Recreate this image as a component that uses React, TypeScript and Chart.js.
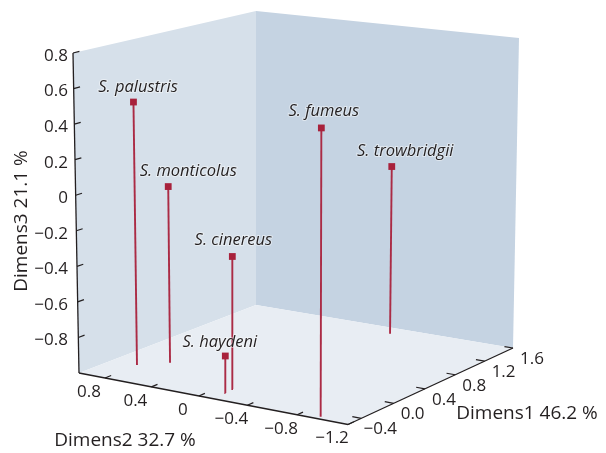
import React, { useEffect, useRef } from "react";
import { Chart, registerables } from "chart.js";

Chart.register(...registerables);

// ---- data (axis units)
const species = ["S. palustris", "S. monticolus", "S. cinereus", "S. haydeni", "S. fumeus", "S. trowbridgii"];
const dimens1 = [-0.184, -0.013, -0.303, -0.407, -0.5125, 1.455];
const dimens2 = [0.807, 0.645, -0.101, -0.1125, -0.955, -0.258];
const dimens3 = [0.494, 0.004, -0.263, -0.795, 0.57, -0.013];

const dimens1Ticks = [-0.4, 0, 0.4, 0.8, 1.2, 1.6];
const dimens1Labels = ["\u22120.4", "0.0", "0.4", "0.8", "1.2", "1.6"];
const dimens2Ticks = [0.8, 0.4, 0, -0.4, -0.8, -1.2];
const dimens2Labels = ["0.8", "0.4", "0", "\u22120.4", "\u22120.8", "\u22121.2"];
const dimens3Ticks = [0.8, 0.6, 0.4, 0.2, 0, -0.2, -0.4, -0.6, -0.8];
const dimens3Labels = ["0.8", "0.6", "0.4", "0.2", "0", "\u22120.2", "\u22120.4", "\u22120.6", "\u22120.8"];

const D1 = [-0.56, 1.6];
const D2 = [-1.2, 1.028];
const D3 = [-1, 0.8];

// ---- view: perspective of the box on the page
const H = { a: 212.45, b: -263.75, c: 348, d: -44.31, e: -26.7, f: 424.5, g: 0.0925, h: 0.0665 };
const boxHeight = [333, 310, 320, 294]; // front, right, left, back
const boxLean = [1.5, 6, -6, 0];

function project(d1: number, d2: number, d3: number) {
  const s = (d1 - D1[0]) / (D1[1] - D1[0]);
  const t = (d2 - D2[0]) / (D2[1] - D2[0]);
  const w = H.g * s + H.h * t + 1;
  const fx = (H.a * s + H.b * t + H.c) / w;
  const fy = (H.d * s + H.e * t + H.f) / w;
  const mix = (v: number[]) =>
    (1 - s) * (1 - t) * v[0] + s * (1 - t) * v[1] + (1 - s) * t * v[2] + s * t * v[3];
  const k = (d3 - D3[0]) / (D3[1] - D3[0]);
  return { x: fx + mix(boxLean) * k, y: fy - mix(boxHeight) * k };
}

const FONT = '"Open Sans", "Noto Sans", sans-serif';
const INK = "#231f20";
const RED = "#a8213b";
const STEM = "#ab2b45";
const labelNudge = [
  [4.5, -15],
  [20, -15.5],
  [1, -16.5],
  [-5.5, -14],
  [2.5, -17],
  [13.5, -15.5],
];

function poly(points: { x: number; y: number }[], color: string) {
  return {
    data: [...points, points[0]],
    showLine: true,
    fill: "shape",
    backgroundColor: color,
    borderColor: color,
    borderWidth: 0,
    pointRadius: 0,
  };
}
function seg(a: { x: number; y: number }, b: { x: number; y: number }, color: string, width: number) {
  return {
    data: [a, b],
    showLine: true,
    fill: false,
    borderColor: color,
    borderWidth: width,
    pointRadius: 0,
  };
}

function buildDatasets() {
  const [a0, a1] = D1;
  const [b0, b1] = D2;
  const [c0, c1] = D3;
  const out: any[] = [];
  out.push(poly([project(a0, b1, c0), project(a0, b1, c1), project(a1, b1, c1), project(a1, b1, c0)], "#d6e0ea"));
  out.push(poly([project(a1, b1, c0), project(a1, b1, c1), project(a1, b0, c1), project(a1, b0, c0)], "#c5d3e2"));
  out.push(poly([project(a0, b0, c0), project(a1, b0, c0), project(a1, b1, c0), project(a0, b1, c0)], "#e8edf3"));

  // axes
  out.push(seg(project(a0, b1, c0), project(a0, b1, c1), INK, 1.3));
  out.push(seg(project(a0, b1, c0), project(a0, b0, c0), INK, 1.3));
  out.push(seg(project(a0, b0, c0), project(a1, b0, c0), INK, 1.3));
  dimens3Ticks.forEach((z) => out.push(seg(project(a0, b1, z), project(a0 + 0.07, b1, z), INK, 1.2)));
  dimens2Ticks.forEach((v) => out.push(seg(project(a0, v, c0), project(a0 + 0.07, v, c0), INK, 1.2)));
  dimens1Ticks.forEach((v) => out.push(seg(project(v, b0, c0), project(v, b0 + 0.07, c0), INK, 1.2)));

  // stems
  species.forEach((_, i) =>
    out.push(seg(project(dimens1[i], dimens2[i], c0), project(dimens1[i], dimens2[i], dimens3[i]), STEM, 1.9))
  );
  // markers
  out.push({
    data: species.map((_, i) => project(dimens1[i], dimens2[i], dimens3[i])),
    showLine: false,
    pointStyle: "rect",
    pointRadius: 4.8,
    pointBackgroundColor: RED,
    pointBorderWidth: 0,
  });
  // Chart.js paints the first dataset last, so the list runs back to front here
  return out.reverse();
}

const textPlugin = {
  id: "boxText",
  afterDatasetsDraw(chart: any) {
    const { ctx, scales } = chart;
    const px = (p: { x: number; y: number }) => ({ x: scales.x.getPixelForValue(p.x), y: scales.y.getPixelForValue(p.y) });
    const text = (s: string, x: number, y: number, align: CanvasTextAlign = "center") => {
      ctx.textAlign = align;
      ctx.textBaseline = "middle";
      ctx.fillStyle = INK;
      ctx.fillText(s, x, y);
    };
    ctx.save();
    ctx.font = `17px ${FONT}`;
    dimens3Ticks.forEach((z, i) => {
      const p = px(project(D1[0], D2[1], z));
      text(dimens3Labels[i], 68, p.y + 3, "right");
    });
    dimens2Ticks.forEach((v, i) => {
      const p = px(project(D1[0], v, D3[0]));
      text(dimens2Labels[i], p.x - 16, p.y + 14);
    });
    dimens1Ticks.forEach((v, i) => {
      const p = px(project(v, D2[0], D3[0]));
      text(dimens1Labels[i], p.x + 19, p.y + 11);
    });
    ctx.font = `19px ${FONT}`;
    text("Dimens1 46.2 %", 527, 414);
    text("Dimens2 32.7 %", 125, 441);
    ctx.save();
    ctx.translate(22, 221);
    ctx.rotate(-Math.PI / 2);
    text("Dimens3 21.1 %", 0, 0);
    ctx.restore();

    ctx.font = `italic 16.5px ${FONT}`;
    species.forEach((name, i) => {
      const p = px(project(dimens1[i], dimens2[i], dimens3[i]));
      const x = p.x + labelNudge[i][0];
      const y = p.y + labelNudge[i][1];
      ctx.textAlign = "center";
      ctx.textBaseline = "middle";
      ctx.lineWidth = 2;
      ctx.strokeStyle = "rgba(255,255,255,0.45)";
      ctx.strokeText(name, x, y);
      text(name, x, y);
    });
    ctx.restore();
  },
};

export default function App() {
  const ref = useRef<HTMLCanvasElement>(null);
  useEffect(() => {
    const chart = new Chart(ref.current!, {
      type: "scatter",
      data: { datasets: buildDatasets() },
      options: {
        animation: false,
        responsive: false,
        layout: { padding: 0, autoPadding: false },
        plugins: { legend: { display: false }, tooltip: { enabled: false }, title: { display: false } },
        scales: {
          x: { type: "linear", display: false, min: 0, max: 606 },
          y: { type: "linear", display: false, min: 0, max: 453, reverse: true },
        },
      },
      plugins: [textPlugin],
    } as any);
    return () => chart.destroy();
  }, []);
  return (
    <div style={{ position: "absolute", left: 0, top: 0, width: 606, height: 453, background: "#fff" }}>
      <canvas ref={ref} width={606} height={453} style={{ display: "block" }} />
    </div>
  );
}
